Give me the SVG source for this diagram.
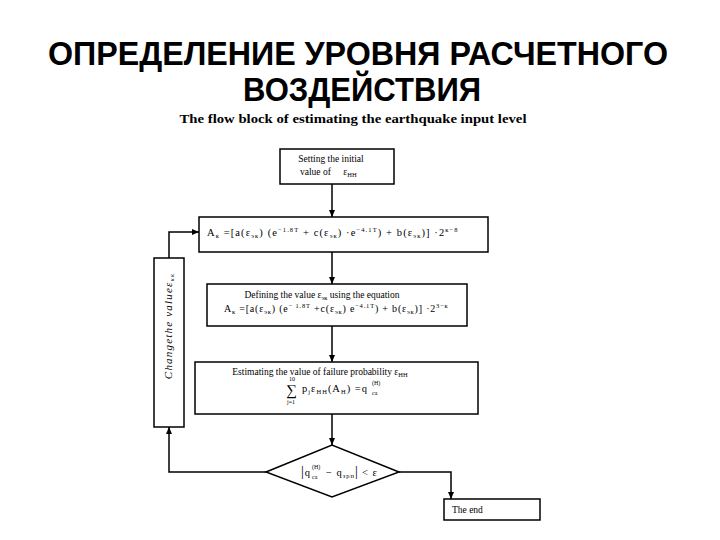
<svg xmlns="http://www.w3.org/2000/svg" width="720" height="540" viewBox="0 0 720 540">
<defs>
<marker id="ah" markerWidth="8" markerHeight="8" refX="7" refY="4" orient="auto" markerUnits="userSpaceOnUse">
<path d="M0,1 L7,4 L0,7 Z" fill="#000"/>
</marker>
<style>
.box{fill:#fff;stroke:#000;stroke-width:1.5}
.ln{fill:none;stroke:#000;stroke-width:1.5}
.t{font-family:"Liberation Serif","DejaVu Serif",serif;font-size:9.5px;fill:#000}
.f{font-family:"Liberation Serif","DejaVu Serif",serif;font-size:10.5px;letter-spacing:1px;fill:#000}
.sb{font-size:6.5px}
.sp{font-size:6.5px}
.s{font-family:"Liberation Serif","DejaVu Serif",serif;font-size:6px;fill:#000}
.title{font-family:"Liberation Sans",Arial,sans-serif;font-weight:bold;font-size:33px;fill:#000;text-anchor:middle}
.sub{font-family:"Liberation Serif","DejaVu Serif",serif;font-weight:bold;font-size:13px;fill:#000;text-anchor:middle}
</style>
</defs>
<rect width="720" height="540" fill="#fff"/>
<text class="title" x="358" y="65" textLength="620" lengthAdjust="spacingAndGlyphs">ОПРЕДЕЛЕНИЕ УРОВНЯ РАСЧЕТНОГО</text>
<text class="title" x="362" y="101" textLength="238" lengthAdjust="spacingAndGlyphs">ВОЗДЕЙСТВИЯ</text>
<text class="sub" x="353" y="123" textLength="347" lengthAdjust="spacingAndGlyphs">The flow block of estimating the earthquake input level</text>

<g id="connectors">
<line class="ln" x1="332" y1="184" x2="332" y2="217" marker-end="url(#ah)"/>
<line class="ln" x1="332" y1="252" x2="332" y2="284" marker-end="url(#ah)"/>
<line class="ln" x1="332" y1="326" x2="332" y2="362" marker-end="url(#ah)"/>
<line class="ln" x1="332" y1="414" x2="332" y2="445" marker-end="url(#ah)"/>
<polyline class="ln" points="266,472 169,472 169,427" marker-end="url(#ah)"/>
<polyline class="ln" points="169,258 169,232 199,232" marker-end="url(#ah)"/>
<polyline class="ln" points="399,472 451,472 451,499" marker-end="url(#ah)"/>
</g>

<g id="start">
<rect class="box" x="280" y="149" width="114" height="35"/>
<text class="t" x="331" y="162" text-anchor="middle">Setting the initial</text>
<text class="t" x="300" y="175">value of <tspan dx="10">ε</tspan><tspan class="sb" dy="2">НН</tspan></text>
</g>

<g id="calc-ak">
<rect class="box" x="199" y="217" width="289" height="35"/>
<text class="f" x="207" y="236" style="letter-spacing:1.1px">A<tspan class="sb" dy="2">к</tspan><tspan dy="-2"> =[a(ε</tspan><tspan class="sb" dy="2">эк</tspan><tspan dy="-2">) (e</tspan><tspan class="sp" dy="-4">−1.8T</tspan><tspan dy="4"> + c(ε</tspan><tspan class="sb" dy="2">эк</tspan><tspan dy="-2">) ·e</tspan><tspan class="sp" dy="-4">−4.1T</tspan><tspan dy="4">) + b(ε</tspan><tspan class="sb" dy="2">эк</tspan><tspan dy="-2">)] ·2</tspan><tspan class="sp" dy="-4">к−8</tspan></text>
</g>

<g id="define">
<rect class="box" x="207" y="284" width="260" height="42"/>
<text class="t" x="322" y="298" text-anchor="middle">Defining the value ε<tspan class="sb" dy="2">эк</tspan><tspan dy="-2"> using the equation</tspan></text>
<text class="f" x="224" y="312" style="font-size:10px;letter-spacing:0.8px">A<tspan class="sb" dy="2">к</tspan><tspan dy="-2"> =[a(ε</tspan><tspan class="sb" dy="2">эк</tspan><tspan dy="-2">) (e</tspan><tspan class="sp" dy="-4">− 1.8T</tspan><tspan dy="4"> +c(ε</tspan><tspan class="sb" dy="2">эк</tspan><tspan dy="-2">) e</tspan><tspan class="sp" dy="-4">−4.1T</tspan><tspan dy="4">) + b(ε</tspan><tspan class="sb" dy="2">эк</tspan><tspan dy="-2">)] ·2</tspan><tspan class="sp" dy="-4">3−к</tspan></text>
</g>

<g id="estimate">
<rect class="box" x="195" y="362" width="283" height="52"/>
<text class="t" x="320" y="375" text-anchor="middle">Estimating the value of failure probability ε<tspan class="sb" dy="2">НН</tspan></text>
<text class="s" x="289" y="381">10</text>
<text class="t" x="286" y="395" style="font-size:15px">∑</text>
<text class="s" x="287" y="404">j=1</text>
<text class="f" x="302" y="392">p<tspan class="sb" dy="2">j</tspan><tspan dy="-2">ε</tspan><tspan class="sb" dy="2">НН</tspan><tspan dy="-2">(A</tspan><tspan class="sb" dy="2">Н</tspan><tspan dy="-2">) =q</tspan></text>
<text class="s" x="372" y="385">(Н)</text>
<text class="s" x="372" y="395">са</text>
</g>

<g id="check">
<polygon class="box" points="266,472 332,445 399,472 332,497"/>
<text class="f" x="301" y="476"><tspan style="font-size:14px">|</tspan>q</text>
<text class="s" x="312" y="469">(Н)</text>
<text class="s" x="312" y="479">са</text>
<text class="f" x="326" y="476">− q<tspan class="sb" dy="2">зрп</tspan><tspan dy="-2" style="font-size:14px">|</tspan><tspan dx="3">&lt; ε</tspan></text>
</g>

<g id="change">
<rect class="box" x="154" y="258" width="30" height="169"/>
<text class="t" transform="translate(172,326) rotate(-90)" text-anchor="middle" style="font-size:11px;font-style:italic;letter-spacing:1.2px">Changethe valueε<tspan class="sb" dy="2">кк</tspan></text>
</g>

<g id="end">
<rect class="box" x="444" y="499" width="96" height="21"/>
<text class="t" x="452" y="513">The end</text>
</g>
</svg>
